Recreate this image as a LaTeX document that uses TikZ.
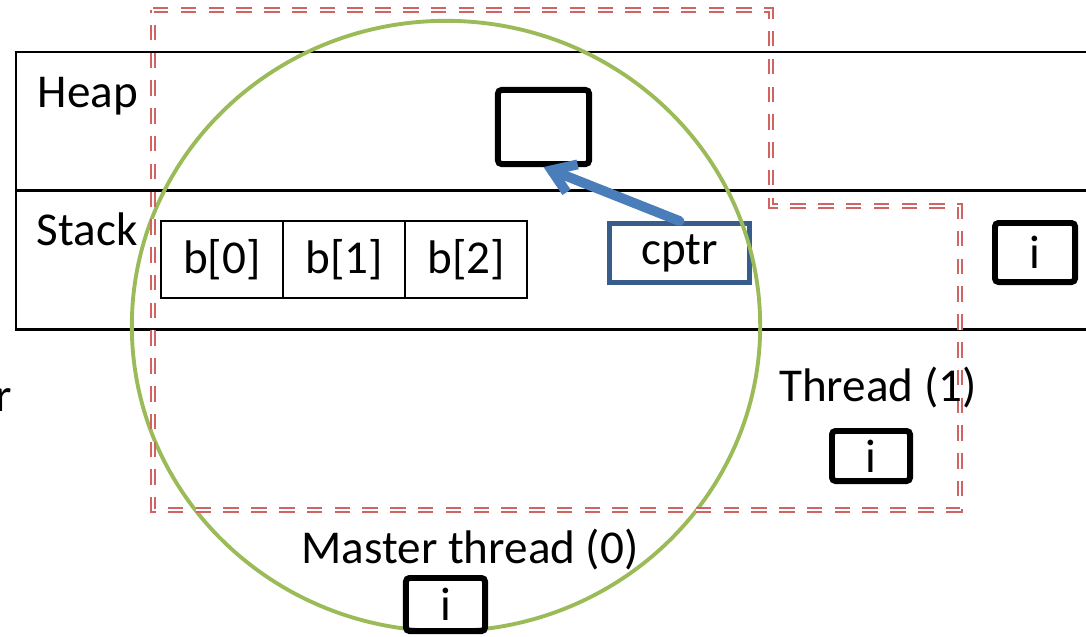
\documentclass[tikz,border=0pt]{standalone}
\usepackage{fontspec}
\setmainfont{Carlito}
\usepackage{tikz}
\usetikzlibrary{positioning}
\usetikzlibrary{arrows.meta}
\usepackage{xcolor}
\definecolor{ptrblue}{RGB}{74,126,187}
\definecolor{ptrframe}{RGB}{56,93,138}
\definecolor{scopegreen}{RGB}{155,187,89}
\definecolor{scopered}{RGB}{208,100,98}

\begin{document}
\begin{tikzpicture}[x=0.01cm, y=-0.01cm, font=\fontsize{13.4}{16}\selectfont,
    varbox/.style={draw, line width=1.7pt, rounded corners=1pt, inner sep=0pt},
    cell/.style={draw, line width=0.6pt, inner sep=0pt, outer sep=0pt,
                 minimum width=1.22cm, minimum height=0.77cm},
    label/.style={inner sep=0pt}]
    \useasboundingbox (0,0) rectangle (1086,636);
    \clip (0,0) rectangle (1086,636);
    % memory: heap and stack
    \draw[line width=0.85pt] (1100,52) -| (16,329) -- (1100,329);
    \draw[line width=0.85pt] (16,190) -- (1100,190);
    \node[label, anchor=base west] (heap) at (37,107) {Heap};
    \node[label, anchor=base west] (stack) at (36,245) {Stack};
    \node[varbox, minimum width=0.91cm, minimum height=0.74cm] (heapobj) at (543.5,127) {};
    \node[cell] (b0) at (222,259.5) {b[0]};
    \node[cell, right=0pt of b0] (b1) {b[1]};
    \node[cell, right=0pt of b1] (b2) {b[2]};
    \node[draw=ptrframe, line width=1.4pt, inner sep=0pt, minimum width=1.40cm,
          minimum height=0.59cm] (cptr) at (679.5,253) {cptr};
    \node[varbox, minimum width=0.80cm, minimum height=0.59cm] (iouter) at (1035,252.5) {i};
    \draw[ptrblue, line width=2.8pt, line cap=round,
          -{Straight Barb[length=0.22cm, width=0.30cm]}] (cptr.north) -- (heapobj.south);
    % thread scopes
    \draw[scopegreen, line width=1.1pt] (446,326) ellipse [x radius=3.14cm, y radius=3.05cm];
    \draw[scopered, line width=0.6pt, double=white, double distance=0.35pt,
          dash pattern=on 4.4pt off 3.5pt]
        (153,10) -- (771,10) -- (771,206) -- (960,206) -- (960,510) -- (153,510) -- cycle;
    \node[label] (thr1) at (878,388) {Thread (1)};
    \node[varbox, minimum width=0.78cm, minimum height=0.50cm] (ithr1) at (871,456) {i};
    \node[label] (thr0) at (470,550) {Master thread (0)};
    \node[varbox, minimum width=0.79cm, minimum height=0.53cm] (ithr0) at (445.5,604.5) {i};
    \node[label, anchor=base east] (cut) at (13,411) {r};
\end{tikzpicture}
\end{document}
